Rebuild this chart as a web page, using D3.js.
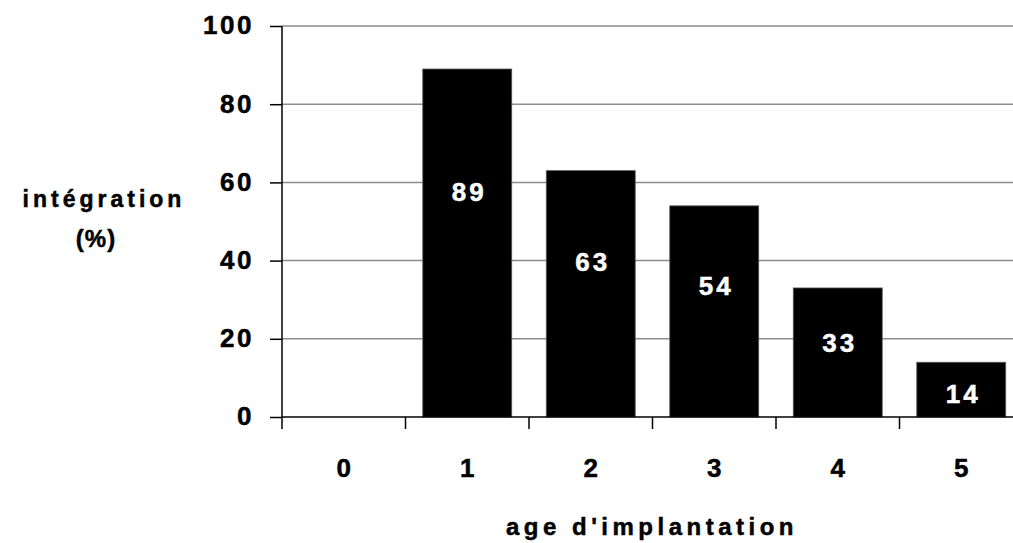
<!DOCTYPE html>
<html>
<head>
<meta charset="utf-8">
<script src="https://cdn.jsdelivr.net/npm/d3@7"></script>
<style>
  body { margin: 0; background: #fff; }
  text { font-family: "Liberation Sans", Arial, sans-serif; font-weight: bold; stroke-width: 0.5px; paint-order: stroke; }
</style>
</head>
<body>
<svg id="chart"></svg>
<script>
// data
var ages = ["0", "1", "2", "3", "4", "5"]
var integration = [0, 89, 63, 54, 33, 14]
var yTicks = [0, 20, 40, 60, 80, 100]

var dimensions = {
  width: 1013,
  height: 543,
  margin: { top: 26, bottom: 126, left: 282, right: -10 }
}

var svg = d3.select("#chart")
  .attr("width", dimensions.width)
  .attr("height", dimensions.height)

var plotW = dimensions.width - dimensions.margin.left - dimensions.margin.right
var plotH = dimensions.height - dimensions.margin.top - dimensions.margin.bottom

var g = svg.append("g")
  .attr("transform", "translate(" + dimensions.margin.left + "," + dimensions.margin.top + ")")

var x = d3.scaleBand()
  .domain(ages)
  .range([0, plotW])
  .paddingInner(0.28)
  .paddingOuter(0.14)

var xEdge = d3.scaleLinear().domain([0, ages.length]).range([0, plotW])

var y = d3.scaleLinear()
  .domain([0, 100])
  .range([plotH, 0])

// gridlines
g.append("g")
  .selectAll("line")
  .data(yTicks.filter(function(d) { return d > 0 }))
  .enter().append("line")
    .attr("x1", 0)
    .attr("x2", plotW)
    .attr("y1", function(d) { return y(d) })
    .attr("y2", function(d) { return y(d) })
    .attr("stroke", "#8c8c8c")
    .attr("stroke-width", 1.5)

// bars
g.append("g")
  .selectAll("rect")
  .data(integration)
  .enter().append("rect")
    .attr("x", function(d, i) { return x(ages[i]) })
    .attr("y", function(d) { return y(d) })
    .attr("width", x.bandwidth())
    .attr("height", function(d) { return plotH - y(d) })
    .attr("fill", "#000")
    .attr("stroke", "#555")
    .attr("stroke-width", 0.8)

// value labels inside the bars
g.append("g")
  .selectAll("text")
  .data(integration.filter(function(d) { return d > 0 }))
  .enter().append("text")
    .attr("x", function(d) { return x(ages[integration.indexOf(d)]) + x.bandwidth() / 2 + 2 })
    .attr("y", function(d) { return y(0.69 * d - 3.7) })
    .attr("dy", "0.36em")
    .attr("text-anchor", "middle")
    .attr("fill", "#fff")
    .attr("stroke", "#fff")
    .style("font-size", "26px")
    .style("letter-spacing", "3px")
    .text(function(d) { return d })

// y axis
var yAxis = g.append("g")
  .call(d3.axisLeft(y).tickValues(yTicks).tickSize(12).tickPadding(16))
yAxis.select(".domain").attr("stroke", "#000").attr("stroke-width", 1.5).attr("d", "M0," + plotH + "V0")
yAxis.selectAll(".tick line").attr("stroke", "#000").attr("stroke-width", 1.5)
yAxis.selectAll(".tick text")
  .attr("fill", "#000")
  .attr("stroke", "#000")
  .attr("dy", "0.3em")
  .style("font-size", "26px")
  .style("letter-spacing", "2.5px")

// x axis: line plus ticks at band edges, labels at band centres
var xAxis = g.append("g").attr("transform", "translate(0," + plotH + ")")
xAxis.append("line")
  .attr("x1", 0).attr("x2", plotW)
  .attr("stroke", "#000").attr("stroke-width", 1.5)
xAxis.selectAll(".edge")
  .data(d3.range(ages.length + 1))
  .enter().append("line")
    .attr("class", "edge")
    .attr("x1", function(d) { return xEdge(d) })
    .attr("x2", function(d) { return xEdge(d) })
    .attr("y1", 0).attr("y2", 12)
    .attr("stroke", "#000").attr("stroke-width", 1.5)
xAxis.selectAll(".lab")
  .data(ages)
  .enter().append("text")
    .attr("class", "lab")
    .attr("x", function(d) { return x(d) + x.bandwidth() / 2 })
    .attr("y", 60)
    .attr("text-anchor", "middle")
    .attr("stroke", "#000")
    .style("font-size", "26px")
    .text(function(d) { return d })

// axis titles
svg.append("text")
  .attr("x", 652)
  .attr("y", 535)
  .attr("text-anchor", "middle")
  .attr("stroke", "#000")
  .style("font-size", "24px")
  .style("letter-spacing", "4.5px")
  .text("age d'implantation")

svg.append("text")
  .attr("x", 104)
  .attr("y", 207)
  .attr("text-anchor", "middle")
  .attr("stroke", "#000")
  .style("font-size", "23px")
  .style("letter-spacing", "4px")
  .text("intégration")

svg.append("text")
  .attr("x", 96)
  .attr("y", 240)
  .attr("dy", "0.3em")
  .attr("text-anchor", "middle")
  .attr("stroke", "#000")
  .style("font-size", "24px")
  .style("letter-spacing", "1px")
  .text("(%)")
</script>
</body>
</html>
